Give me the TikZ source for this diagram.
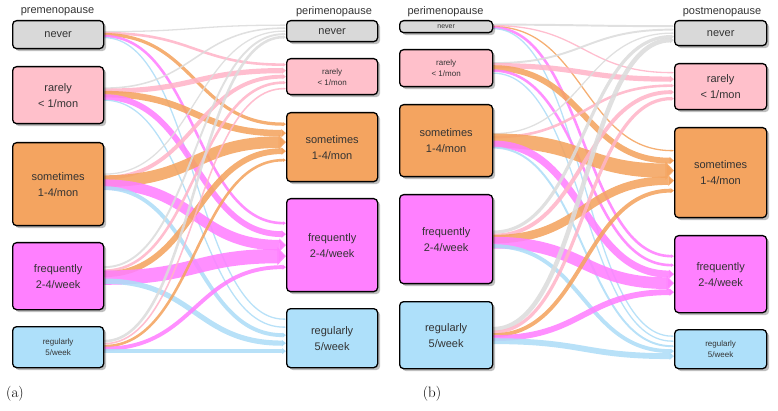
\documentclass[tikz,border=0pt]{standalone}
\usepackage{fontspec}
\setsansfont{Liberation Sans}
\usetikzlibrary{arrows.meta,shadows}
\definecolor{cNever}{HTML}{D9D9D9}
\definecolor{cRare}{HTML}{FFC0CB}
\definecolor{cSome}{HTML}{F4A460}
\definecolor{cFreq}{HTML}{FF80FF}
\definecolor{cReg}{HTML}{AEE0FA}
\definecolor{fc0}{HTML}{DCDCDC}
\definecolor{fc1}{HTML}{FFB5C8}
\definecolor{fc2}{HTML}{F4A460}
\definecolor{fc3}{HTML}{FF80FF}
\definecolor{fc4}{HTML}{AEDDF7}
\definecolor{txt}{HTML}{333333}
\pgfdeclarelayer{flows}
\pgfsetlayers{flows,main}
\tikzset{
  box/.style={draw=black, line width=1.3pt, rounded corners=4pt, anchor=north west,
    inner sep=0pt, align=center, text=txt,
    drop shadow={shadow xshift=2.5pt, shadow yshift=-2.5pt, fill=black, opacity=0.25},
    font=\sffamily\fontsize{11}{16}\selectfont},
  smalltxt/.style={font=\sffamily\fontsize{8}{11}\selectfont},
  tinytxt/.style={font=\sffamily\fontsize{7}{8}\selectfont},
  stagelabel/.style={text=txt, font=\sffamily\fontsize{11}{13}\selectfont},
  panellabel/.style={font=\fontsize{15}{17}\selectfont},
  flow/.style={draw opacity=0.88, line cap=butt,
    -{Triangle[length=1.5pt 0.5, width=0pt 1.25]}},
}
\begin{document}
\begin{tikzpicture}[x=1pt,y=-1pt]
\useasboundingbox (0,0) rectangle (778,411);
% ---------------- panel (a) boxes ----------------
\node[box, fill=cNever, minimum width=91, minimum height=28] (La0) at (12,20) {never};
\node[box, fill=cRare,  minimum width=91, minimum height=57] (La1) at (12,66) {rarely\\ \textless{} 1/mon};
\node[box, fill=cSome,  minimum width=91, minimum height=83] (La2) at (12,142) {sometimes\\ 1-4/mon};
\node[box, fill=cFreq,  minimum width=91, minimum height=67] (La3) at (12,242) {frequently\\ 2-4/week};
\node[box, fill=cReg,   minimum width=91, minimum height=41, smalltxt] (La4) at (12,326) {regularly\\ 5/week};
\node[box, fill=cNever, minimum width=91, minimum height=21] (Ra0) at (286,20) {never};
\node[box, fill=cRare,  minimum width=91, minimum height=36, smalltxt] (Ra1) at (286,58) {rarely\\ \textless{} 1/mon};
\node[box, fill=cSome,  minimum width=91, minimum height=69] (Ra2) at (286,112) {sometimes\\ 1-4/mon};
\node[box, fill=cFreq,  minimum width=91, minimum height=93] (Ra3) at (286,198) {frequently\\ 2-4/week};
\node[box, fill=cReg,   minimum width=91, minimum height=59] (Ra4) at (286,308) {regularly\\ 5/week};
% ---------------- panel (b) boxes ----------------
\node[box, fill=cNever, minimum width=93, minimum height=12, tinytxt] (Lb0) at (399,20) {never};
\node[box, fill=cRare,  minimum width=93, minimum height=37, smalltxt] (Lb1) at (399,49) {rarely\\ \textless{} 1/mon};
\node[box, fill=cSome,  minimum width=93, minimum height=72] (Lb2) at (399,104) {sometimes\\ 1-4/mon};
\node[box, fill=cFreq,  minimum width=93, minimum height=89] (Lb3) at (399,194) {frequently\\ 2-4/week};
\node[box, fill=cReg,   minimum width=93, minimum height=67] (Lb4) at (399,301) {regularly\\ 5/week};
\node[box, fill=cNever, minimum width=92, minimum height=25] (Rb0) at (674,20) {never};
\node[box, fill=cRare,  minimum width=92, minimum height=46] (Rb1) at (674,63) {rarely\\ \textless{} 1/mon};
\node[box, fill=cSome,  minimum width=92, minimum height=90] (Rb2) at (674,127) {sometimes\\ 1-4/mon};
\node[box, fill=cFreq,  minimum width=92, minimum height=77] (Rb3) at (674,235) {frequently\\ 2-4/week};
\node[box, fill=cReg,   minimum width=92, minimum height=39, smalltxt] (Rb4) at (674,329) {regularly\\ 5/week};
% ---------------- flows (behind the boxes) ----------------
% offsets are measured downwards; yshift is upwards, hence the minus signs
\begin{pgfonlayer}{flows}
\foreach \i in {0,...,4}{
  \foreach \j in {0,...,4}{
    \pgfmathsetmacro\w{1.3*{1,2,2.5,2,1, 1.2,4,5,4.5,1, 1,3,9,8,3, 1.5,2,4.5,11,4, 2,1.2,2,3,3.5}[5*\i+\j]}
    \pgfmathsetmacro\so{-({0,-1,-3,-2,-1}[\i]+(\j-2)*{1.5,3,3.5,3.5,2.5}[\i])}
    \pgfmathsetmacro\to{-({0,0,-5,0,-3}[\j]+(\i-2)*{3,6,9,11,8}[\j])}
    \draw[flow, draw=fc\j, line width=\w pt]
      ([yshift=\so pt]La\i.east) .. controls +(90,0) and +(-90,0) ..
      ([yshift=\to pt]Ra\j.west);
    \pgfmathsetmacro\w{1.3*{1.5,1,1,2,1, 1.5,4,4.5,2,1, 1,2,11,5.5,1.5, 2.5,3,6.5,9,3, 3.5,2.5,3,4.5,4.5}[5*\i+\j]}
    \pgfmathsetmacro\so{-((\j-2)*{1,2.5,3.5,3.5,3}[\i])}
    \pgfmathsetmacro\to{-({0,-1,-2,0,-3}[\j]+(\i-2)*{3.5,6.5,10,9,5}[\j])}
    \draw[flow, draw=fc\j, line width=\w pt]
      ([yshift=\so pt]Lb\i.east) .. controls +(90,0) and +(-90,0) ..
      ([yshift=\to pt]Rb\j.west);
  }
}
\end{pgfonlayer}
% ---------------- labels ----------------
\node[stagelabel] (la) at (57.5,12) {premenopause};
\node[stagelabel] (lb) at (334,12) {perimenopause};
\node[stagelabel] (lc) at (445.5,12) {perimenopause};
\node[stagelabel] (ld) at (722,12) {postmenopause};
\node[panellabel] (pa) at (15,394) {(a)};
\node[panellabel] (pb) at (432,394) {(b)};
\end{tikzpicture}
\end{document}
